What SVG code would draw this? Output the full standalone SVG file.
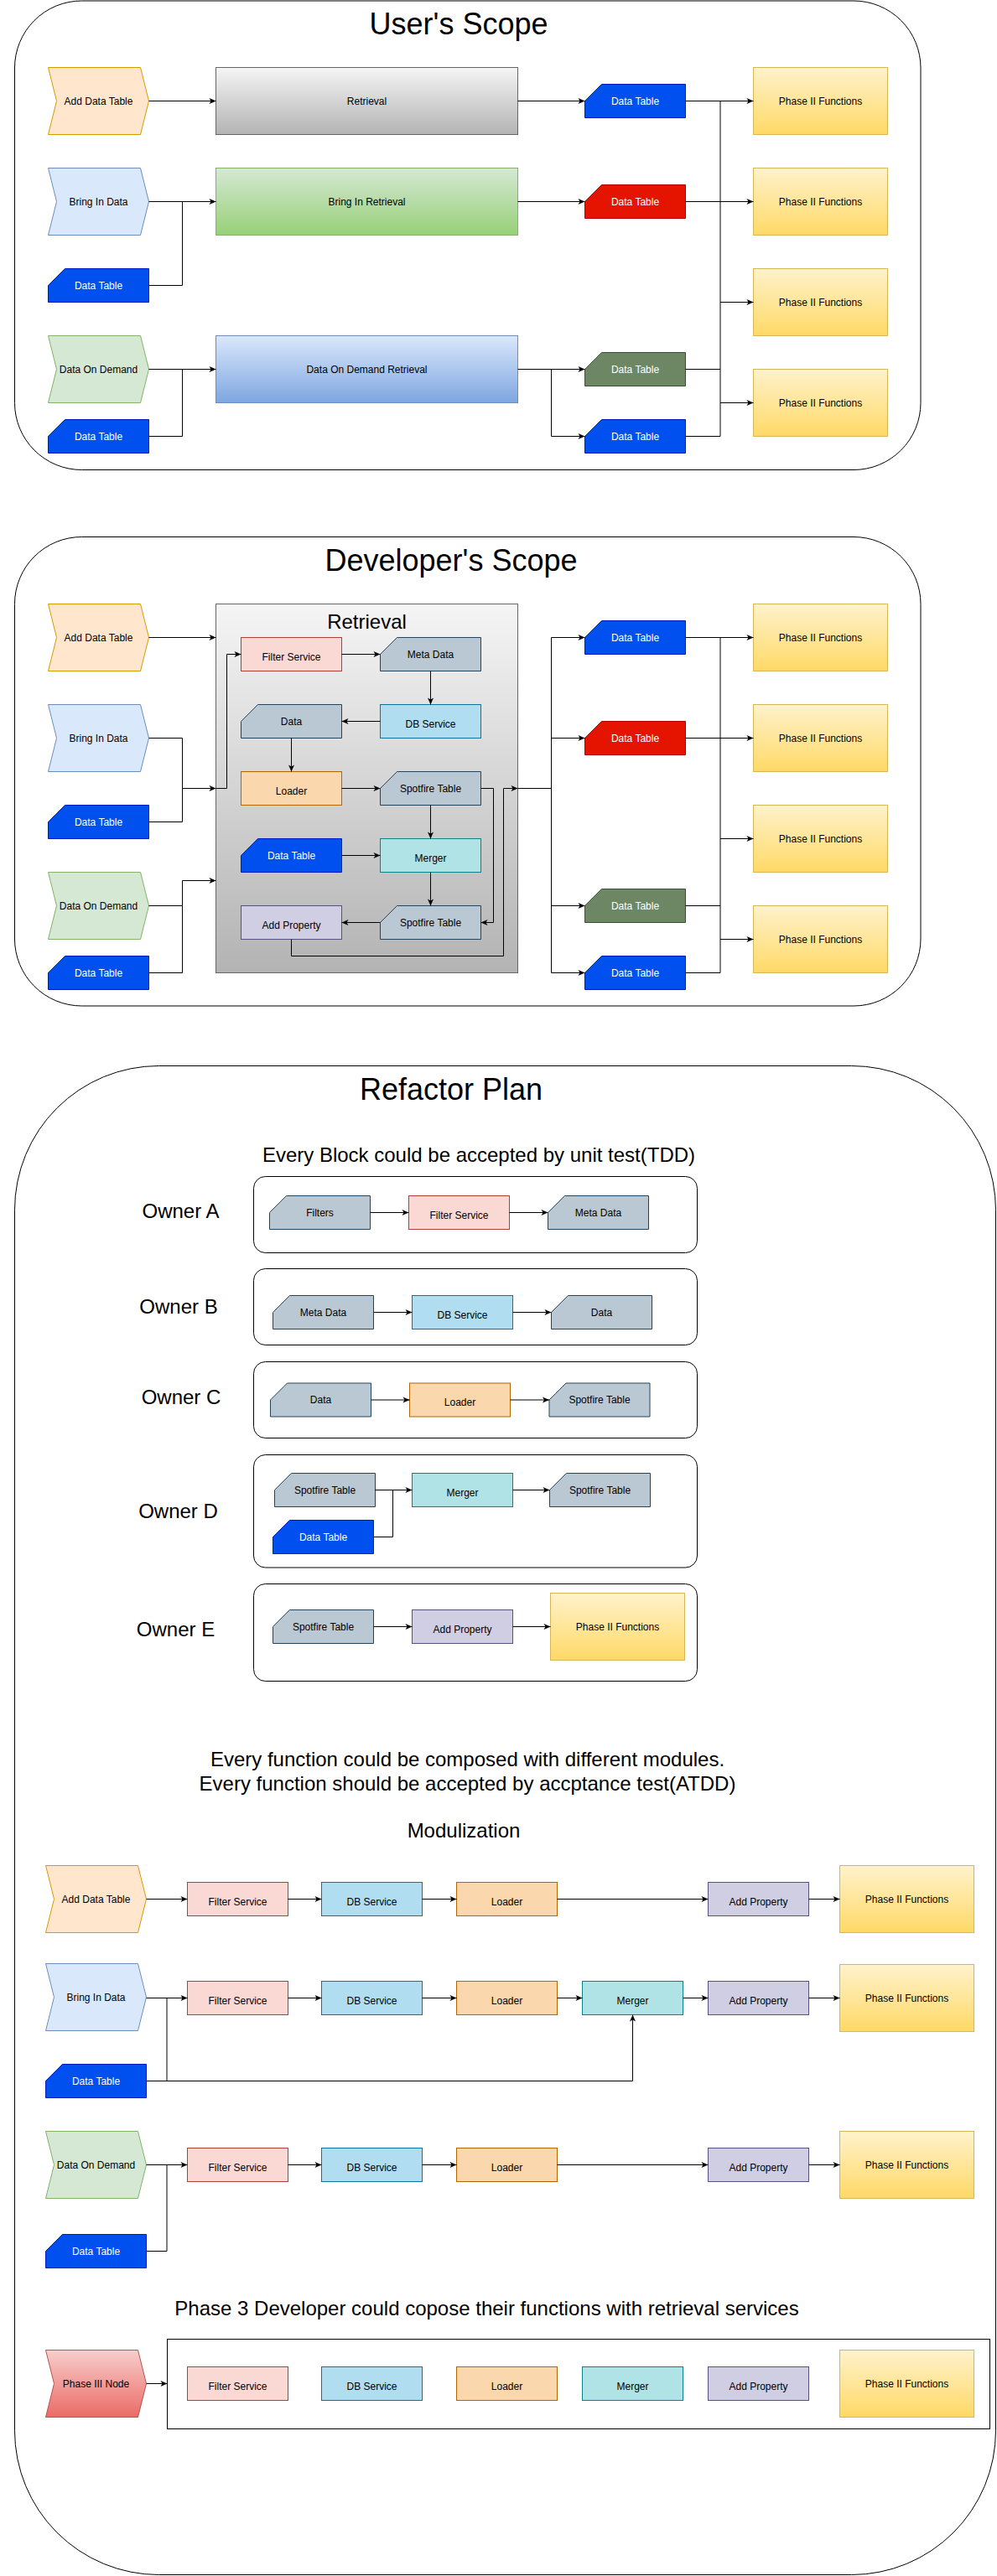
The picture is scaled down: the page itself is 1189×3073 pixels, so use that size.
<svg xmlns="http://www.w3.org/2000/svg" width="1189" height="3073" viewBox="0 0 1189 3073">
<style>
text{font-family:"Liberation Sans",Arial,Helvetica,sans-serif;font-size:12px;text-anchor:middle;fill:#000}
.w{fill:#fff}
.big{font-size:36px}
.mid{font-size:24px}
.frame{fill:none;stroke:#000;stroke-width:1}
.owner{fill:#fff;stroke:#000;stroke-width:1}
.e{fill:none;stroke:#000;stroke-width:1}
.a{marker-end:url(#arr)}
.ad{fill:#ffe6cc;stroke:#d79b00}
.bi{fill:#dae8fc;stroke:#6c8ebf}
.od{fill:#d5e8d4;stroke:#82b366}
.dtb{fill:#0050ef;stroke:#001dbc}
.dtr{fill:#e51400;stroke:#b20000}
.dtg{fill:#6d8764;stroke:#3a5431}
.cd{fill:#bac8d3;stroke:#23445d}
.fs{fill:#fad9d5;stroke:#ae4132}
.db{fill:#b1ddf0;stroke:#10739e}
.ld{fill:#fad7ac;stroke:#b46504}
.mg{fill:#b0e3e6;stroke:#0e8088}
.ap{fill:#d0cee2;stroke:#56517e}
.p2{fill:url(#gY);stroke:#d6b656}
</style>
<defs>
<linearGradient id="gGray" x1="0" y1="0" x2="0" y2="1"><stop offset="0" stop-color="#f5f5f5"/><stop offset="1" stop-color="#b3b3b3"/></linearGradient>
<linearGradient id="gGreen" x1="0" y1="0" x2="0" y2="1"><stop offset="0" stop-color="#d5e8d4"/><stop offset="1" stop-color="#97d077"/></linearGradient>
<linearGradient id="gBlue" x1="0" y1="0" x2="0" y2="1"><stop offset="0" stop-color="#dae8fc"/><stop offset="1" stop-color="#7ea6e0"/></linearGradient>
<linearGradient id="gY" x1="0" y1="0" x2="0" y2="1"><stop offset="0" stop-color="#fff2cc"/><stop offset="1" stop-color="#ffd966"/></linearGradient>
<linearGradient id="gR" x1="0" y1="0" x2="0" y2="1"><stop offset="0" stop-color="#f8cecc"/><stop offset="1" stop-color="#ea6b66"/></linearGradient>
<marker id="arr" viewBox="-9 -5 10 10" refX="0" refY="0" markerWidth="10" markerHeight="10" markerUnits="userSpaceOnUse" orient="auto"><path d="M0,0 L-8,-3.5 L-6,0 L-8,3.5 Z" fill="#000"/></marker>
</defs>

<!-- ===== User's Scope ===== -->
<g id="user-scope">
<rect class="frame" x="17.5" y="1" width="1080.5" height="559.5" rx="80"/>
<text class="big" x="547" y="41">User's Scope</text>
</g>
<g id="u-add"><polygon class="ad" points="57.5,80.5 167.5,80.5 177.5,120.5 167.5,160.5 57.5,160.5 67.5,120.5"/><text x="117.5" y="124.5">Add Data Table</text></g>
<g id="u-retrieval"><rect x="257.5" y="80.5" width="360" height="80" fill="url(#gGray)" stroke="#666"/><text x="437.5" y="124.5">Retrieval</text></g>
<g id="u-bring"><polygon class="bi" points="57.5,200.5 167.5,200.5 177.5,240.5 167.5,280.5 57.5,280.5 67.5,240.5"/><text x="117.5" y="244.5">Bring In Data</text></g>
<g id="u-bringret"><rect x="257.5" y="200.5" width="360" height="80" fill="url(#gGreen)" stroke="#82b366"/><text x="437.5" y="244.5">Bring In Retrieval</text></g>
<g id="u-dt1"><polygon class="dtb" points="77.5,320.5 177.5,320.5 177.5,360.5 57.5,360.5 57.5,340.5"/><text class="w" x="117.5" y="344.5">Data Table</text></g>
<g id="u-dod"><polygon class="od" points="57.5,400.5 167.5,400.5 177.5,440.5 167.5,480.5 57.5,480.5 67.5,440.5"/><text x="117.5" y="444.5">Data On Demand</text></g>
<g id="u-dodret"><rect x="257.5" y="400.5" width="360" height="80" fill="url(#gBlue)" stroke="#6c8ebf"/><text x="437.5" y="444.5">Data On Demand Retrieval</text></g>
<g id="u-dt2"><polygon class="dtb" points="77.5,500.5 177.5,500.5 177.5,540.5 57.5,540.5 57.5,520.5"/><text class="w" x="117.5" y="524.5">Data Table</text></g>
<g id="u-out1"><polygon class="dtb" points="717.5,100.5 817.5,100.5 817.5,140.5 697.5,140.5 697.5,120.5"/><text class="w" x="757.5" y="124.5">Data Table</text></g>
<g id="u-out2"><polygon class="dtr" points="717.5,220.5 817.5,220.5 817.5,260.5 697.5,260.5 697.5,240.5"/><text class="w" x="757.5" y="244.5">Data Table</text></g>
<g id="u-out3"><polygon class="dtg" points="717.5,420.5 817.5,420.5 817.5,460.5 697.5,460.5 697.5,440.5"/><text class="w" x="757.5" y="444.5">Data Table</text></g>
<g id="u-out4"><polygon class="dtb" points="717.5,500.5 817.5,500.5 817.5,540.5 697.5,540.5 697.5,520.5"/><text class="w" x="757.5" y="524.5">Data Table</text></g>
<g id="u-p1"><rect class="p2" x="898.5" y="80.5" width="160" height="80"/><text x="978.5" y="124.5">Phase II Functions</text></g>
<g id="u-p2"><rect class="p2" x="898.5" y="200.5" width="160" height="80"/><text x="978.5" y="244.5">Phase II Functions</text></g>
<g id="u-p3"><rect class="p2" x="898.5" y="320.5" width="160" height="80"/><text x="978.5" y="364.5">Phase II Functions</text></g>
<g id="u-p4"><rect class="p2" x="898.5" y="440.5" width="160" height="80"/><text x="978.5" y="484.5">Phase II Functions</text></g>

<!-- ===== Developer's Scope ===== -->
<g id="dev-scope">
<rect class="frame" x="17.5" y="640.5" width="1080.5" height="559.5" rx="80"/>
<text class="big" x="538" y="681">Developer's Scope</text>
</g>
<g id="d-add"><polygon class="ad" points="57.5,720.5 167.5,720.5 177.5,760.5 167.5,800.5 57.5,800.5 67.5,760.5"/><text x="117.5" y="764.5">Add Data Table</text></g>
<g id="d-bring"><polygon class="bi" points="57.5,840.5 167.5,840.5 177.5,880.5 167.5,920.5 57.5,920.5 67.5,880.5"/><text x="117.5" y="884.5">Bring In Data</text></g>
<g id="d-dt1"><polygon class="dtb" points="77.5,960.5 177.5,960.5 177.5,1000.5 57.5,1000.5 57.5,980.5"/><text class="w" x="117.5" y="984.5">Data Table</text></g>
<g id="d-dod"><polygon class="od" points="57.5,1040.5 167.5,1040.5 177.5,1080.5 167.5,1120.5 57.5,1120.5 67.5,1080.5"/><text x="117.5" y="1084.5">Data On Demand</text></g>
<g id="d-dt2"><polygon class="dtb" points="77.5,1140.5 177.5,1140.5 177.5,1180.5 57.5,1180.5 57.5,1160.5"/><text class="w" x="117.5" y="1164.5">Data Table</text></g>
<g id="d-retrieval"><rect x="257.5" y="720.5" width="360" height="440" fill="url(#gGray)" stroke="#666"/><text class="mid" x="437.5" y="750">Retrieval</text></g>
<g id="d-filter"><rect class="fs" x="287.5" y="760.5" width="120" height="40"/><text x="347.5" y="787.5">Filter Service</text></g>
<g id="d-meta"><polygon class="cd" points="473.5,760.5 573.5,760.5 573.5,800.5 453.5,800.5 453.5,780.5"/><text x="513.5" y="784.5">Meta Data</text></g>
<g id="d-db"><rect class="db" x="453.5" y="840.5" width="120" height="40"/><text x="513.5" y="867.5">DB Service</text></g>
<g id="d-data"><polygon class="cd" points="307.5,840.5 407.5,840.5 407.5,880.5 287.5,880.5 287.5,860.5"/><text x="347.5" y="864.5">Data</text></g>
<g id="d-loader"><rect class="ld" x="287.5" y="920.5" width="120" height="40"/><text x="347.5" y="947.5">Loader</text></g>
<g id="d-spot1"><polygon class="cd" points="473.5,920.5 573.5,920.5 573.5,960.5 453.5,960.5 453.5,940.5"/><text x="513.5" y="944.5">Spotfire Table</text></g>
<g id="d-dt3"><polygon class="dtb" points="307.5,1000.5 407.5,1000.5 407.5,1040.5 287.5,1040.5 287.5,1020.5"/><text class="w" x="347.5" y="1024.5">Data Table</text></g>
<g id="d-merger"><rect class="mg" x="453.5" y="1000.5" width="120" height="40"/><text x="513.5" y="1027.5">Merger</text></g>
<g id="d-addprop"><rect class="ap" x="287.5" y="1080.5" width="120" height="40"/><text x="347.5" y="1107.5">Add Property</text></g>
<g id="d-spot2"><polygon class="cd" points="473.5,1080.5 573.5,1080.5 573.5,1120.5 453.5,1120.5 453.5,1100.5"/><text x="513.5" y="1104.5">Spotfire Table</text></g>
<g id="d-out1"><polygon class="dtb" points="717.5,740.5 817.5,740.5 817.5,780.5 697.5,780.5 697.5,760.5"/><text class="w" x="757.5" y="764.5">Data Table</text></g>
<g id="d-out2"><polygon class="dtr" points="717.5,860.5 817.5,860.5 817.5,900.5 697.5,900.5 697.5,880.5"/><text class="w" x="757.5" y="884.5">Data Table</text></g>
<g id="d-out3"><polygon class="dtg" points="717.5,1060.5 817.5,1060.5 817.5,1100.5 697.5,1100.5 697.5,1080.5"/><text class="w" x="757.5" y="1084.5">Data Table</text></g>
<g id="d-out4"><polygon class="dtb" points="717.5,1140.5 817.5,1140.5 817.5,1180.5 697.5,1180.5 697.5,1160.5"/><text class="w" x="757.5" y="1164.5">Data Table</text></g>
<g id="d-p1"><rect class="p2" x="898.5" y="720.5" width="160" height="80"/><text x="978.5" y="764.5">Phase II Functions</text></g>
<g id="d-p2"><rect class="p2" x="898.5" y="840.5" width="160" height="80"/><text x="978.5" y="884.5">Phase II Functions</text></g>
<g id="d-p3"><rect class="p2" x="898.5" y="960.5" width="160" height="80"/><text x="978.5" y="1004.5">Phase II Functions</text></g>
<g id="d-p4"><rect class="p2" x="898.5" y="1080.5" width="160" height="80"/><text x="978.5" y="1124.5">Phase II Functions</text></g>

<!-- ===== Refactor Plan ===== -->
<g id="refactor-plan">
<rect class="frame" x="17.5" y="1271.5" width="1170" height="1800" rx="172"/>
<text class="big" x="538" y="1312">Refactor Plan</text>
<text class="mid" x="571" y="1385.5">Every Block could be accepted by unit test(TDD)</text>
</g>
<g id="owner-a">
<rect class="owner" x="302.5" y="1403.5" width="529" height="91" rx="14"/>
<text class="mid" x="215.5" y="1453">Owner A</text>
</g>
<g id="a-filters"><polygon class="cd" points="341.5,1426.5 441.5,1426.5 441.5,1466.5 321.5,1466.5 321.5,1446.5"/><text x="381.5" y="1450.5">Filters</text></g>
<g id="a-filter"><rect class="fs" x="487.5" y="1426.5" width="120" height="40"/><text x="547.5" y="1453.5">Filter Service</text></g>
<g id="a-meta"><polygon class="cd" points="673.5,1426.5 773.5,1426.5 773.5,1466.5 653.5,1466.5 653.5,1446.5"/><text x="713.5" y="1450.5">Meta Data</text></g>

<g id="owner-b">
<rect class="owner" x="302.5" y="1513.5" width="529" height="91" rx="14"/>
<text class="mid" x="213" y="1567">Owner B</text>
</g>
<g id="b-meta"><polygon class="cd" points="345.5,1545.5 445.5,1545.5 445.5,1585.5 325.5,1585.5 325.5,1565.5"/><text x="385.5" y="1569.5">Meta Data</text></g>
<g id="b-db"><rect class="db" x="491.5" y="1545.5" width="120" height="40"/><text x="551.5" y="1572.5">DB Service</text></g>
<g id="b-data"><polygon class="cd" points="677.5,1545.5 777.5,1545.5 777.5,1585.5 657.5,1585.5 657.5,1565.5"/><text x="717.5" y="1569.5">Data</text></g>

<g id="owner-c">
<rect class="owner" x="302.5" y="1624.5" width="529" height="91" rx="14"/>
<text class="mid" x="216" y="1675">Owner C</text>
</g>
<g id="c-data"><polygon class="cd" points="342.5,1650 442.5,1650 442.5,1690 322.5,1690 322.5,1670"/><text x="382.5" y="1674">Data</text></g>
<g id="c-loader"><rect class="ld" x="488.5" y="1650" width="120" height="40"/><text x="548.5" y="1677">Loader</text></g>
<g id="c-spot"><polygon class="cd" points="675,1650 775,1650 775,1690 655,1690 655,1670"/><text x="715" y="1674">Spotfire Table</text></g>

<g id="owner-d">
<rect class="owner" x="302.5" y="1735.5" width="529" height="134.5" rx="14"/>
<text class="mid" x="212.5" y="1811">Owner D</text>
</g>
<g id="d2-spot1"><polygon class="cd" points="347.5,1757.5 447.5,1757.5 447.5,1797.5 327.5,1797.5 327.5,1777.5"/><text x="387.5" y="1781.5">Spotfire Table</text></g>
<g id="d2-merger"><rect class="mg" x="491.5" y="1757.5" width="120" height="40"/><text x="551.5" y="1784.5">Merger</text></g>
<g id="d2-spot2"><polygon class="cd" points="675.5,1757.5 775.5,1757.5 775.5,1797.5 655.5,1797.5 655.5,1777.5"/><text x="715.5" y="1781.5">Spotfire Table</text></g>
<g id="d2-dt"><polygon class="dtb" points="345.5,1813.5 445.5,1813.5 445.5,1853.5 325.5,1853.5 325.5,1833.5"/><text class="w" x="385.5" y="1837.5">Data Table</text></g>

<g id="owner-e">
<rect class="owner" x="302.5" y="1889.5" width="529" height="116" rx="14"/>
<text class="mid" x="209.5" y="1952">Owner E</text>
</g>
<g id="e-spot"><polygon class="cd" points="345.5,1920.5 445.5,1920.5 445.5,1960.5 325.5,1960.5 325.5,1940.5"/><text x="385.5" y="1944.5">Spotfire Table</text></g>
<g id="e-addprop"><rect class="ap" x="491.5" y="1920.5" width="120" height="40"/><text x="551.5" y="1947.5">Add Property</text></g>
<g id="e-p2"><rect class="p2" x="656.5" y="1900.5" width="160" height="80"/><text x="736.5" y="1944.5">Phase II Functions</text></g>

<g id="texts-mod">
<text class="mid" x="557.5" y="2106.5">Every function could be composed with different modules.</text>
<text class="mid" x="557.5" y="2135.5">Every function should be accepted by accptance test(ATDD)</text>
<text class="mid" x="553" y="2192">Modulization</text>
</g>

<!-- Modulization row 1 -->
<g id="m1-add"><polygon class="ad" points="54.5,2225.5 164.5,2225.5 174.5,2265.5 164.5,2305.5 54.5,2305.5 64.5,2265.5"/><text x="114.5" y="2269.5">Add Data Table</text></g>
<g id="m1-filter"><rect class="fs" x="223.5" y="2245.5" width="120" height="40"/><text x="283.5" y="2272.5">Filter Service</text></g>
<g id="m1-db"><rect class="db" x="383.5" y="2245.5" width="120" height="40"/><text x="443.5" y="2272.5">DB Service</text></g>
<g id="m1-loader"><rect class="ld" x="544.5" y="2245.5" width="120" height="40"/><text x="604.5" y="2272.5">Loader</text></g>
<g id="m1-addprop"><rect class="ap" x="844.5" y="2245.5" width="120" height="40"/><text x="904.5" y="2272.5">Add Property</text></g>
<g id="m1-p2"><rect class="p2" x="1001.5" y="2225.5" width="160" height="80"/><text x="1081.5" y="2269.5">Phase II Functions</text></g>

<!-- Modulization row 2 -->
<g id="m2-bring"><polygon class="bi" points="54.5,2342.5 164.5,2342.5 174.5,2382.5 164.5,2422.5 54.5,2422.5 64.5,2382.5"/><text x="114.5" y="2386.5">Bring In Data</text></g>
<g id="m2-filter"><rect class="fs" x="223.5" y="2363.5" width="120" height="40"/><text x="283.5" y="2390.5">Filter Service</text></g>
<g id="m2-db"><rect class="db" x="383.5" y="2363.5" width="120" height="40"/><text x="443.5" y="2390.5">DB Service</text></g>
<g id="m2-loader"><rect class="ld" x="544.5" y="2363.5" width="120" height="40"/><text x="604.5" y="2390.5">Loader</text></g>
<g id="m2-merger"><rect class="mg" x="694.5" y="2363.5" width="120" height="40"/><text x="754.5" y="2390.5">Merger</text></g>
<g id="m2-addprop"><rect class="ap" x="844.5" y="2363.5" width="120" height="40"/><text x="904.5" y="2390.5">Add Property</text></g>
<g id="m2-p2"><rect class="p2" x="1001.5" y="2343.5" width="160" height="80"/><text x="1081.5" y="2387.5">Phase II Functions</text></g>
<g id="m2-dt"><polygon class="dtb" points="74.5,2462.5 174.5,2462.5 174.5,2502.5 54.5,2502.5 54.5,2482.5"/><text class="w" x="114.5" y="2486.5">Data Table</text></g>

<!-- Modulization row 3 -->
<g id="m3-dod"><polygon class="od" points="54.5,2542.5 164.5,2542.5 174.5,2582.5 164.5,2622.5 54.5,2622.5 64.5,2582.5"/><text x="114.5" y="2586.5">Data On Demand</text></g>
<g id="m3-filter"><rect class="fs" x="223.5" y="2562.5" width="120" height="40"/><text x="283.5" y="2589.5">Filter Service</text></g>
<g id="m3-db"><rect class="db" x="383.5" y="2562.5" width="120" height="40"/><text x="443.5" y="2589.5">DB Service</text></g>
<g id="m3-loader"><rect class="ld" x="544.5" y="2562.5" width="120" height="40"/><text x="604.5" y="2589.5">Loader</text></g>
<g id="m3-addprop"><rect class="ap" x="844.5" y="2562.5" width="120" height="40"/><text x="904.5" y="2589.5">Add Property</text></g>
<g id="m3-p2"><rect class="p2" x="1001.5" y="2542.5" width="160" height="80"/><text x="1081.5" y="2586.5">Phase II Functions</text></g>
<g id="m3-dt"><polygon class="dtb" points="74.5,2665.5 174.5,2665.5 174.5,2705.5 54.5,2705.5 54.5,2685.5"/><text class="w" x="114.5" y="2689.5">Data Table</text></g>

<!-- Phase 3 -->
<g id="phase3-text"><text class="mid" x="580.5" y="2762">Phase 3 Developer could copose their functions with retrieval services</text></g>
<g id="p3-box"><rect x="199.5" y="2790.5" width="981" height="107" fill="#fff" stroke="#000"/></g>
<g id="p3-node"><polygon points="54.5,2803.5 164.5,2803.5 174.5,2843.5 164.5,2883.5 54.5,2883.5 64.5,2843.5" fill="url(#gR)" stroke="#b85450"/><text x="114.5" y="2847.5">Phase III Node</text></g>
<g id="p3-filter"><rect class="fs" x="223.5" y="2823.5" width="120" height="40"/><text x="283.5" y="2850.5">Filter Service</text></g>
<g id="p3-db"><rect class="db" x="383.5" y="2823.5" width="120" height="40"/><text x="443.5" y="2850.5">DB Service</text></g>
<g id="p3-loader"><rect class="ld" x="544.5" y="2823.5" width="120" height="40"/><text x="604.5" y="2850.5">Loader</text></g>
<g id="p3-merger"><rect class="mg" x="694.5" y="2823.5" width="120" height="40"/><text x="754.5" y="2850.5">Merger</text></g>
<g id="p3-addprop"><rect class="ap" x="844.5" y="2823.5" width="120" height="40"/><text x="904.5" y="2850.5">Add Property</text></g>
<g id="p3-p2"><rect class="p2" x="1001.5" y="2803.5" width="160" height="80"/><text x="1081.5" y="2847.5">Phase II Functions</text></g>

<!-- ===== Connectors ===== -->
<g id="connectors" class="e">
<!-- user's scope -->
<path class="a" d="M177.5,120.5H257.5"/>
<path class="a" d="M617.5,120.5H697.5"/>
<path class="a" d="M177.5,240.5H257.5"/>
<path d="M177.5,340.5H217.5V240.5"/>
<path class="a" d="M617.5,240.5H697.5"/>
<path class="a" d="M177.5,440.5H257.5"/>
<path d="M177.5,520.5H217.5V440.5"/>
<path class="a" d="M617.5,440.5H697.5"/>
<path class="a" d="M657.5,440.5V520.5H697.5"/>
<path class="a" d="M817.5,120.5H898.5"/>
<path class="a" d="M817.5,240.5H898.5"/>
<path d="M817.5,440.5H859"/>
<path d="M817.5,520.5H859"/>
<path d="M859,120.5V520.5"/>
<path class="a" d="M859,360.5H898.5"/>
<path class="a" d="M859,480.5H898.5"/>
<!-- developer's scope -->
<path class="a" d="M177.5,760.5H257.5"/>
<path d="M177.5,880.5H217.5V980.5H177.5"/>
<path class="a" d="M217.5,940.5H257.5"/>
<path class="a" d="M257.5,940.5H270.5V780.5H287.5"/>
<path d="M177.5,1080.5H217.5V1160.5H177.5"/>
<path d="M217.5,1080.5V1050.5"/>
<path class="a" d="M217.5,1050.5H257.5"/>
<path class="a" d="M407.5,780.5H453.5"/>
<path class="a" d="M513.5,800.5V840.5"/>
<path class="a" d="M453.5,860.5H407.5"/>
<path class="a" d="M347.5,880.5V920.5"/>
<path class="a" d="M407.5,940.5H453.5"/>
<path class="a" d="M513.5,960.5V1000.5"/>
<path class="a" d="M407.5,1020.5H453.5"/>
<path class="a" d="M513.5,1040.5V1080.5"/>
<path class="a" d="M453.5,1100.5H407.5"/>
<path class="a" d="M573.5,940.5H588.5V1100.5H573.5"/>
<path class="a" d="M347.5,1120.5V1140.5H600.5V940.5H617.5"/>
<path d="M617.5,940.5H657.5"/>
<path d="M657.5,760.5V1160.5"/>
<path class="a" d="M657.5,760.5H697.5"/>
<path class="a" d="M657.5,880.5H697.5"/>
<path class="a" d="M657.5,1080.5H697.5"/>
<path class="a" d="M657.5,1160.5H697.5"/>
<path class="a" d="M817.5,760.5H898.5"/>
<path class="a" d="M817.5,880.5H898.5"/>
<path d="M817.5,1080.5H859"/>
<path d="M817.5,1160.5H859"/>
<path d="M859,760.5V1160.5"/>
<path class="a" d="M859,1000.5H898.5"/>
<path class="a" d="M859,1120.5H898.5"/>
<!-- owners -->
<path class="a" d="M441.5,1446.5H487.5"/>
<path class="a" d="M607.5,1446.5H653.5"/>
<path class="a" d="M445.5,1565.5H491.5"/>
<path class="a" d="M611.5,1565.5H657.5"/>
<path class="a" d="M442.5,1670H488.5"/>
<path class="a" d="M608.5,1670H655"/>
<path class="a" d="M447.5,1777.5H491.5"/>
<path d="M445.5,1833.5H468.5V1777.5"/>
<path class="a" d="M611.5,1777.5H655.5"/>
<path class="a" d="M445.5,1940.5H491.5"/>
<path class="a" d="M611.5,1940.5H656.5"/>
<!-- modulization row 1 -->
<path class="a" d="M174.5,2265.5H223.5"/>
<path class="a" d="M343.5,2265.5H383.5"/>
<path class="a" d="M503.5,2265.5H544.5"/>
<path class="a" d="M664.5,2265.5H844.5"/>
<path class="a" d="M964.5,2265.5H1001.5"/>
<!-- row 2 -->
<path class="a" d="M174.5,2383.5H223.5"/>
<path d="M199,2482.5V2383.5"/>
<path class="a" d="M174.5,2482.5H754.5V2403.5"/>
<path class="a" d="M343.5,2383.5H383.5"/>
<path class="a" d="M503.5,2383.5H544.5"/>
<path class="a" d="M664.5,2383.5H694.5"/>
<path class="a" d="M814.5,2383.5H844.5"/>
<path class="a" d="M964.5,2383.5H1001.5"/>
<!-- row 3 -->
<path class="a" d="M174.5,2582.5H223.5"/>
<path d="M174.5,2685.5H199"/>
<path d="M199,2685.5V2582.5"/>
<path class="a" d="M343.5,2582.5H383.5"/>
<path class="a" d="M503.5,2582.5H544.5"/>
<path class="a" d="M664.5,2582.5H844.5"/>
<path class="a" d="M964.5,2582.5H1001.5"/>
<!-- phase 3 -->
<path class="a" d="M174.5,2843.5H199.5"/>
</g>
</svg>
